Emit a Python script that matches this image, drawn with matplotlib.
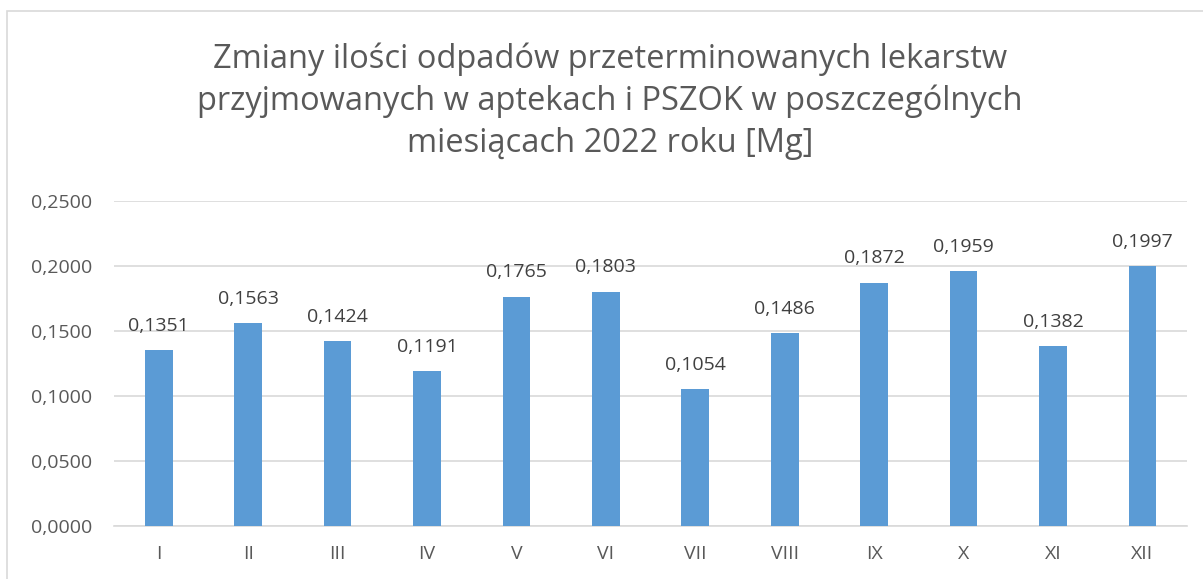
import matplotlib
matplotlib.use("Agg")
import matplotlib.pyplot as plt
from matplotlib.patches import Rectangle
import numpy as np

months = ["I", "II", "III", "IV", "V", "VI", "VII", "VIII", "IX", "X", "XI", "XII"]
values = [0.1351, 0.1563, 0.1424, 0.1191, 0.1765, 0.1803, 0.1054, 0.1486,
          0.1872, 0.1959, 0.1382, 0.1997]

plt.rcParams['font.family'] = ['Open Sans', 'DejaVu Sans']

fig = plt.figure(figsize=(12.03, 5.79), dpi=100)
ax = fig.add_axes([0.0948, 0.0915, 0.892, 0.5613])

x = np.arange(len(months))
ax.bar(x, values, width=0.31, color="#5b9bd5", zorder=3)

for xi, v in zip(x, values):
    label = ("%.4f" % v).replace(".", ",")
    ax.annotate(label, (xi, v), xytext=(0, 11), textcoords="offset points",
                ha="center", va="bottom", fontsize=14, color="#404040")

ax.set_xlim(-0.5, len(months) - 0.5)
ax.set_ylim(0, 0.25)
yticks = np.arange(0, 0.2501, 0.05)
ax.set_yticks(yticks)
ax.set_yticklabels([("%.4f" % t).replace(".", ",") for t in yticks])
ax.set_xticks(x)
ax.set_xticklabels(months)
ax.tick_params(axis="both", length=0, labelsize=14, colors="#595959")
ax.tick_params(axis="y", pad=16)
ax.tick_params(axis="x", pad=14)
ax.grid(axis="y", color="#d9d9d9", linewidth=1.2, zorder=0)
for side in ["top", "right", "left"]:
    ax.spines[side].set_visible(False)
ax.spines["bottom"].set_color("#d9d9d9")
ax.spines["bottom"].set_linewidth(1.2)

fig.text(0.507, 0.926,
         "Zmiany ilości odpadów przeterminowanych lekarstw\n"
         "przyjmowanych w aptekach i PSZOK w poszczególnych\n"
         "miesiącach 2022 roku [Mg]",
         ha="center", va="top", fontsize=23.5, color="#595959", linespacing=1.33)

fig.patches.append(Rectangle((0.006, -0.01), 1.0, 0.991, transform=fig.transFigure,
                             fill=False, edgecolor="#d9d9d9", linewidth=1.2))

fig.savefig("out.png", dpi=100)
